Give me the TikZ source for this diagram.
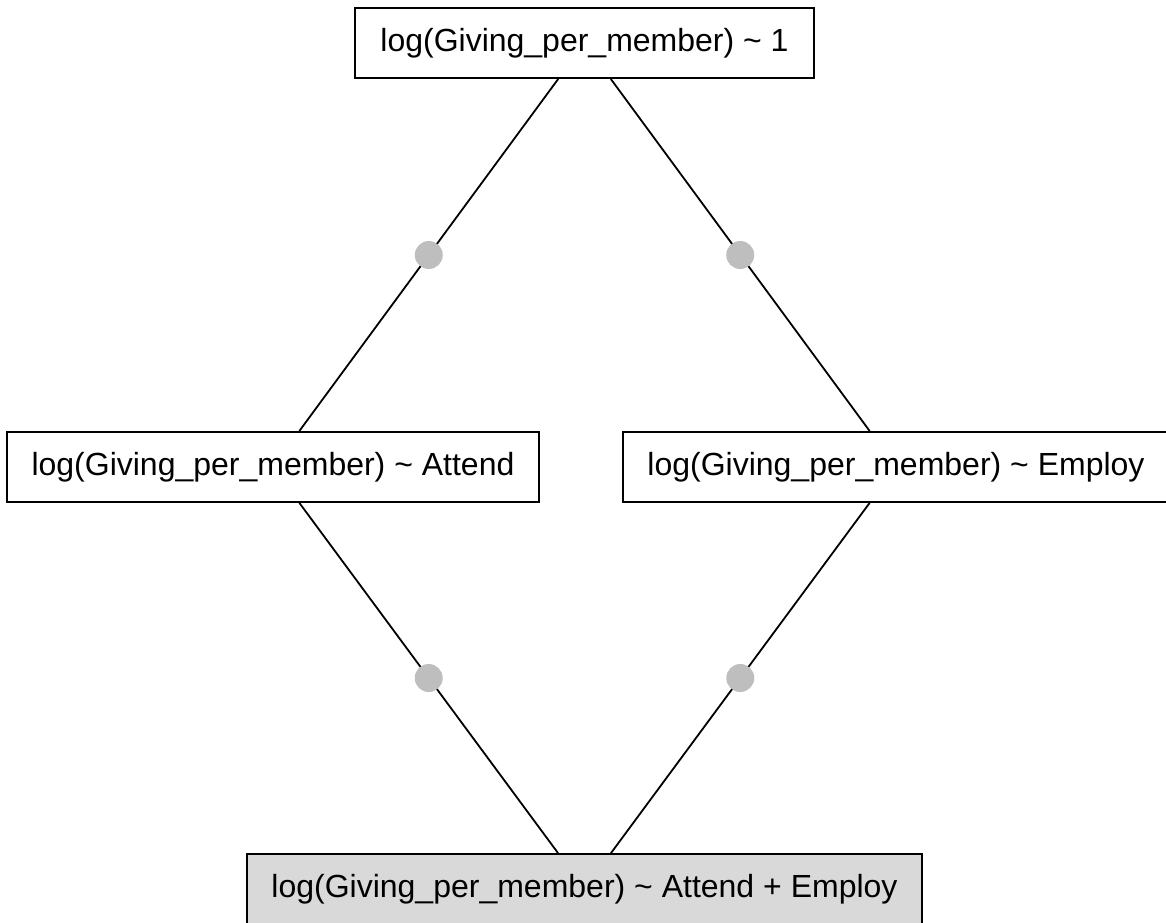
\documentclass[tikz,border=0pt]{standalone}
\usepackage{fontspec}
\setmainfont{Liberation Sans}
\usetikzlibrary{positioning}
\definecolor{dotgray}{RGB}{190,190,190}
\definecolor{fitgray}{RGB}{217,217,217}
\begin{document}
\begin{tikzpicture}[x=1pt, y=-1pt, line width=1.8pt,
    model/.style={rectangle, draw, text centered, inner sep=0pt, minimum height=70pt, font=\fontsize{32}{38}\selectfont},
    fullmodel/.style={model, fill=fitgray},
    edgedot/.style={circle, fill=dotgray, inner sep=0pt, minimum size=28pt}]
    \clip (0,0) rectangle (1166,922);
    % Nodes
    \node [model, minimum width=459pt] (null) at (584.5,43) {log(Giving\_per\_member) \textasciitilde{} 1};
    \node [model, minimum width=532pt] (attend) at (273,467) {log(Giving\_per\_member) \textasciitilde{} Attend};
    \node [model, minimum width=546pt] (employ) at (896,467) {log(Giving\_per\_member) \textasciitilde{} Employ};
    \node [fullmodel, minimum width=675pt] (both) at (584.5,889) {log(Giving\_per\_member) \textasciitilde{} Attend + Employ};

    % Edges
    \draw (null) -- node [edgedot] {} (attend);
    \draw (null) -- node [edgedot] {} (employ);
    \draw (attend) -- node [edgedot] {} (both);
    \draw (employ) -- node [edgedot] {} (both);
\end{tikzpicture}
\end{document}
